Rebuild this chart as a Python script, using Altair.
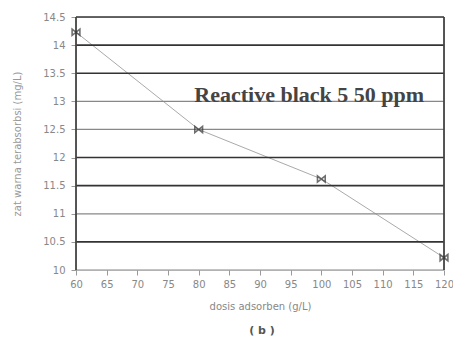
import altair as alt
import pandas as pd

dose = [60, 80, 100, 120]
conc = [14.23, 12.5, 11.62, 10.22]
y_ticks = [10, 10.5, 11, 11.5, 12, 12.5, 13, 13.5, 14, 14.5]
x_ticks = [60, 65, 70, 75, 80, 85, 90, 95, 100, 105, 110, 115, 120]
dark_grid = [10.5, 11.5, 12, 13.5, 14, 14.5]
light_grid = [10, 11, 12.5, 13]

df = pd.DataFrame({"x": dose, "y": conc})
xs = alt.Scale(domain=[60, 120], nice=False, zero=False)
ys = alt.Scale(domain=[10, 14.5], nice=False, zero=False)

xax = alt.Axis(values=x_ticks, grid=False, domain=False, labelColor="#888",
               labelFontSize=10, titleColor="#888", titleFontSize=10,
               titleFontWeight="normal", tickColor="#999", labelPadding=4,
               titlePadding=12, labelOverlap=False, labelFlush=False, format="d")
yax = alt.Axis(values=y_ticks, grid=False, domain=False, labelColor="#888",
               labelFontSize=10, titleColor="#999", titleFontSize=10,
               titleFontWeight="normal", tickColor="#999", labelPadding=6,
               titlePadding=20, labelOverlap=False, labelFlush=False, format="~g")
XT = "dosis adsorben (g/L)"
YT = "zat warna terabsorbsi (mg/L)"


def X(f):
    return alt.X(f, scale=xs, axis=xax, title=XT)


def Y(f):
    return alt.Y(f, scale=ys, axis=yax, title=YT)


base = alt.Chart(df)

line = base.mark_line(color="#aaa", strokeWidth=1).encode(x=X("x:Q"), y=Y("y:Q"))

dark = alt.Chart(pd.DataFrame({"g": dark_grid})).mark_rule(color="#333", strokeWidth=1.6).encode(y=Y("g:Q"))
light = alt.Chart(pd.DataFrame({"g": light_grid})).mark_rule(color="#888", strokeWidth=1.2).encode(y=Y("g:Q"))
vlines = alt.Chart(pd.DataFrame({"v": [60, 120]})).mark_rule(color="#444", strokeWidth=1.8).encode(x=X("v:Q"))

pts = base.mark_point(
    shape="M-1,-0.8L1,0.8L1,-0.8L-1,0.8Z", size=60, filled=False,
    color="#333", strokeWidth=1.6
).encode(x=X("x:Q"), y=Y("y:Q"))

label = alt.Chart(pd.DataFrame({"x": [79.3], "y": [13.12], "t": ["Reactive black 5 50 ppm"]})).mark_text(
    font="Liberation Serif", fontWeight="bold", fontSize=22, align="left", baseline="middle", color="#444"
).encode(x=X("x:Q"), y=Y("y:Q"), text="t:N")

caption = alt.Chart(pd.DataFrame({"t": ["( b )"]})).mark_text(
    fontSize=11, color="#555", fontWeight="bold", align="center", baseline="middle"
).encode(x=alt.value(186), y=alt.value(314), text="t:N")

chart = alt.layer(line, light, dark, vlines, pts, label, caption).properties(
    width=368, height=253,
    autosize=alt.AutoSizeParams(type="none"),
    padding={"left": 68, "top": 9, "right": 9, "bottom": 71},
).configure_view(stroke=None).configure(font="DejaVu Sans")

chart.save("out.html", embed_options={"renderer": "svg", "actions": False})
